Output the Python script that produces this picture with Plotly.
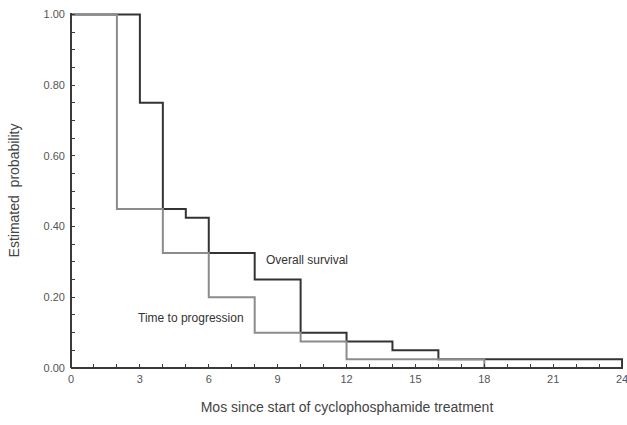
import plotly.graph_objects as go

# Overall survival (Kaplan-Meier step values)
os_months = [0, 3, 4, 5, 6, 8, 10, 12, 14, 16, 24]
os_prob = [1.00, 0.75, 0.45, 0.425, 0.325, 0.25, 0.10, 0.075, 0.05, 0.025, 0.0]

# Time to progression
ttp_months = [0, 2, 4, 6, 8, 10, 12, 18]
ttp_prob = [1.00, 0.45, 0.325, 0.20, 0.10, 0.075, 0.025, 0.0]

x_ticks = [0, 3, 6, 9, 12, 15, 18, 21, 24]
y_ticks = [0.0, 0.2, 0.4, 0.6, 0.8, 1.0]
y_tick_labels = ["0.00", "0.20", "0.40", "0.60", "0.80", "1.00"]

FONT = "Liberation Sans, Arial, sans-serif"
AXIS_COLOR = "#3a3a3a"

fig = go.Figure()
fig.add_trace(go.Scatter(x=os_months, y=os_prob, mode="lines", line_shape="hv",
                         line=dict(color="#333333", width=2), name="Overall survival",
                         showlegend=False))
fig.add_trace(go.Scatter(x=ttp_months, y=ttp_prob, mode="lines", line_shape="hv",
                         line=dict(color="#8c8c8c", width=2), name="Time to progression",
                         showlegend=False))

fig.add_annotation(x=8.4, y=0.305, text="Overall survival", showarrow=False,
                   xanchor="left", yanchor="middle", font=dict(family=FONT, size=12, color="#333333"))
fig.add_annotation(x=2.85, y=0.141, text="Time to progression", showarrow=False,
                   xanchor="left", yanchor="middle", font=dict(family=FONT, size=12, color="#333333"))

# axis lines (left and bottom) drawn in paper coordinates
fig.add_shape(type="line", xref="paper", yref="paper", x0=0, x1=1, y0=0, y1=0,
              line=dict(color=AXIS_COLOR, width=2), layer="above")
fig.add_shape(type="line", xref="paper", yref="paper", x0=0, x1=0, y0=0, y1=1,
              line=dict(color=AXIS_COLOR, width=2), layer="above")

fig.update_layout(
    template="none",
    width=627, height=425,
    margin=dict(l=71, r=4, t=13, b=57),
    plot_bgcolor="white", paper_bgcolor="white",
    font=dict(family=FONT, size=11, color="#555555"),
)
fig.update_xaxes(
    range=[0, 24.04], tickvals=x_ticks, ticks="inside", ticklen=4, tickcolor=AXIS_COLOR,
    tickwidth=1, showline=False, showgrid=False, zeroline=False,
    minor=dict(dtick=1, ticks="inside", ticklen=4, tickcolor=AXIS_COLOR, tickwidth=1, showgrid=False),
    ticklabelstandoff=3, ticklabeloverflow="allow", automargin=False,
    title=dict(text="Mos since start of cyclophosphamide treatment", standoff=18,
               font=dict(family=FONT, size=14, color="#444444")),
    tickfont=dict(family=FONT, size=11, color="#555555"),
)
fig.update_yaxes(
    range=[0, 1.004], tickvals=y_ticks, ticktext=y_tick_labels, ticks="inside", ticklen=4,
    tickcolor=AXIS_COLOR, tickwidth=1, showline=False, showgrid=False, zeroline=False,
    minor=dict(dtick=0.05, ticks="inside", ticklen=4, tickcolor=AXIS_COLOR, tickwidth=1, showgrid=False),
    ticklabelstandoff=5, ticklabeloverflow="allow", automargin=False,
    title=dict(text="Estimated  probability", standoff=20,
               font=dict(family=FONT, size=14, color="#444444")),
    tickfont=dict(family=FONT, size=11, color="#555555"),
)

fig.write_html("out.html", config={"displayModeBar": False},
               post_script="document.body.style.margin='0';")
